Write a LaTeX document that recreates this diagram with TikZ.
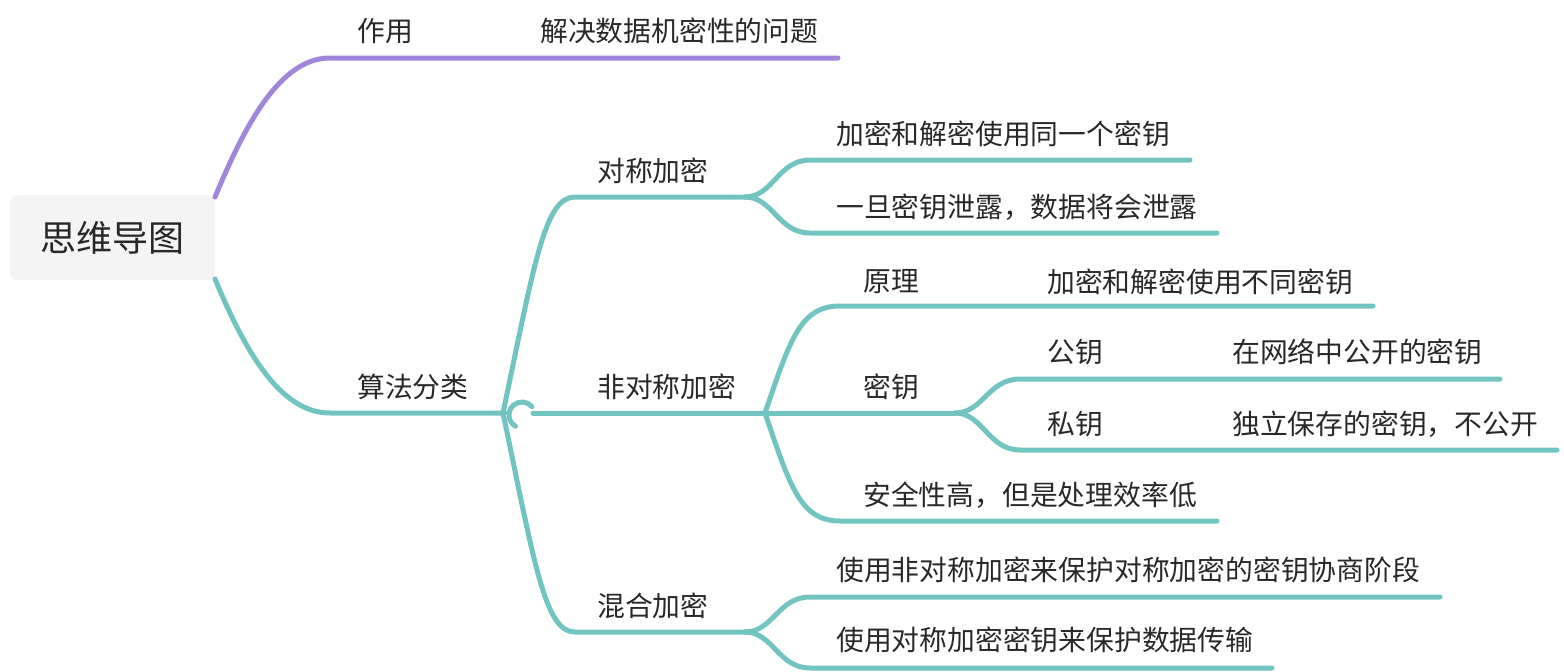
\documentclass[tikz,border=0pt]{standalone}
\usepackage{fontspec}
\newfontfamily\cjk{Noto Sans CJK SC}
\definecolor{tealc}{RGB}{114,196,193}
\definecolor{purc}{RGB}{161,135,220}
\definecolor{txtc}{RGB}{40,40,40}
\definecolor{rootfill}{RGB}{244,244,244}
\tikzset{
  br/.style={line width=5pt, line cap=round, draw=tealc},
  brp/.style={line width=5pt, line cap=round, draw=purc},
  txt/.style={anchor=west, inner sep=0pt, text=txtc, font=\cjk\fontsize{27.8}{32}\selectfont},
  rootbox/.style={fill=rootfill, rounded corners=8pt, draw=none},
}
\begin{document}
\begin{tikzpicture}[x=1pt,y=-1pt]
\useasboundingbox (0,0) rectangle (1564,672);
% root
\node[rootbox, minimum width=205pt, minimum height=85pt, anchor=north west] (root) at (10,195) {};
\node[inner sep=0pt, text=txtc, font=\cjk\fontsize{36}{40}\selectfont] (roottxt) at (112,238) {思维导图};
% coordinates
\coordinate (R1) at (215,197);
\coordinate (R2) at (215,279);
\coordinate (A) at (330,58);
\coordinate (Ae) at (838,58);
\coordinate (B) at (330,413);
\coordinate (Be) at (505,413);
\coordinate (J) at (503,413);
\coordinate (K) at (522,415);
\coordinate (Ks) at (533,413);
\coordinate (C1) at (575,197);
\coordinate (C1e) at (745,197);
\coordinate (C3) at (575,632);
\coordinate (C3e) at (745,632);
\coordinate (C2e) at (765,413);
\coordinate (M) at (955,413);
\coordinate (D1) at (810,160);
\coordinate (D1e) at (1190,160);
\coordinate (D2) at (810,233);
\coordinate (D2e) at (1217,233);
\coordinate (E1) at (840,306);
\coordinate (E1e) at (1373,306);
\coordinate (E3) at (840,521);
\coordinate (E3e) at (1217,521);
\coordinate (F1) at (1020,379);
\coordinate (F1e) at (1500,379);
\coordinate (F2) at (1020,450);
\coordinate (F2e) at (1557,450);
\coordinate (G1) at (810,597);
\coordinate (G1e) at (1440,597);
\coordinate (G2) at (810,668);
\coordinate (G2e) at (1272,668);
% connectors
\draw[brp] (R1) .. controls +(30,-72) and +(-50,0) .. (A) -- (Ae);
\draw[br] (R2) .. controls +(30,72) and +(-50,0) .. (B) -- (Be);
\draw[br] (K) ++(-40:13) arc[start angle=-40, end angle=-240, radius=13];
\draw[br] (J) .. controls +(32,-153) and +(-30,0) .. (C1) -- (C1e);
\draw[br] (J) .. controls +(32,153) and +(-30,0) .. (C3) -- (C3e);
\draw[br] (Ks) -- (C2e) -- (M);
\draw[br] (C1e) .. controls +(28,0) and +(-32,0) .. (D1) -- (D1e);
\draw[br] (C1e) .. controls +(28,0) and +(-32,0) .. (D2) -- (D2e);
\draw[br] (C2e) .. controls +(25,-73) and +(-40,0) .. (E1) -- (E1e);
\draw[br] (C2e) .. controls +(25,73) and +(-40,0) .. (E3) -- (E3e);
\draw[br] (M) .. controls +(28,0) and +(-32,0) .. (F1) -- (F1e);
\draw[br] (M) .. controls +(28,0) and +(-32,0) .. (F2) -- (F2e);
\draw[br] (C3e) .. controls +(28,0) and +(-32,0) .. (G1) -- (G1e);
\draw[br] (C3e) .. controls +(28,0) and +(-32,0) .. (G2) -- (G2e);
% labels
\node[txt] (n1) at (357,31) {作用};
\node[txt] (n1v) at (540,31) {解决数据机密性的问题};
\node[txt] (n2) at (357,387) {算法分类};
\node[txt] (s1) at (597,171) {对称加密};
\node[txt] (s2) at (597,387) {非对称加密};
\node[txt] (s3) at (597,606) {混合加密};
\node[txt] (t1) at (836,134) {加密和解密使用同一个密钥};
\node[txt] (t2) at (836,207) {一旦密钥泄露，数据将会泄露};
\node[txt] (u1) at (863,282) {原理};
\node[txt] (u1v) at (1047,282) {加密和解密使用不同密钥};
\node[txt] (u2) at (863,387) {密钥};
\node[txt] (v1) at (1047,352) {公钥};
\node[txt] (v1v) at (1232,352) {在网络中公开的密钥};
\node[txt] (v2) at (1047,424) {私钥};
\node[txt] (v2v) at (1232,424) {独立保存的密钥，不公开};
\node[txt] (u3) at (863,495) {安全性高，但是处理效率低};
\node[txt] (w1) at (836,570) {使用非对称加密来保护对称加密的密钥协商阶段};
\node[txt] (w2) at (836,640) {使用对称加密密钥来保护数据传输};
\end{tikzpicture}
\end{document}
